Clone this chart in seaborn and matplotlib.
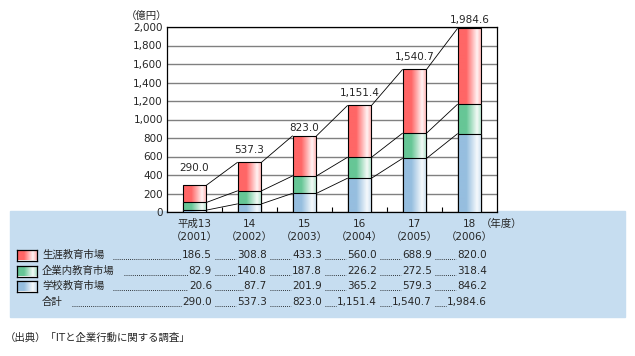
import numpy as np
import pandas as pd
import seaborn as sns
import matplotlib
matplotlib.use("Agg")
import matplotlib.pyplot as plt
import matplotlib.transforms as mtransforms
from matplotlib.lines import Line2D
from matplotlib.colors import to_rgb

# データ（億円）
years = ["平成13", "14", "15", "16", "17", "18"]
years_ad = ["（2001）", "（2002）", "（2003）", "（2004）", "（2005）", "（2006）"]
lifelong = [186.5, 308.8, 433.3, 560.0, 688.9, 820.0]    # 生涯教育市場
corporate = [82.9, 140.8, 187.8, 226.2, 272.5, 318.4]    # 企業内教育市場
school = [20.6, 87.7, 201.9, 365.2, 579.3, 846.2]        # 学校教育市場
series_names = ["生涯教育市場", "企業内教育市場", "学校教育市場"]
series_colors = ["#FF6666", "#66C696", "#96BEDF"]

total = [a + b + c for a, b, c in zip(lifelong, corporate, school)]
middle = [b + c for b, c in zip(corporate, school)]

sns.set_style("white")
plt.rcParams["font.family"] = ["DejaVu Sans", "Noto Sans CJK JP"]
plt.rcParams["font.size"] = 7.5

W, H = 635, 356
fig = plt.figure(figsize=(W / 100, H / 100), dpi=100)


def fx(px):
    return px / W


def fy(py):
    return 1 - py / H


def gradient(color, n=120):
    """横方向のグラデーション（左:色 → 右寄り:白 → 右端:淡色）"""
    base = np.array(to_rgb(color))
    white = np.ones(3)
    stops = [0.0, 0.35, 0.8, 1.0]
    cols = [base, base, base + (white - base) * 0.92, base + (white - base) * 0.45]
    t = np.linspace(0, 1, n)
    rgb = np.stack([np.interp(t, stops, [c[j] for c in cols]) for j in range(3)], axis=-1)
    return rgb[np.newaxis, :, :]


# 表の背景帯
band = plt.Rectangle((fx(10), fy(317)), fx(625) - fx(10), fy(211) - fy(317),
                     transform=fig.transFigure, color="#C6DDF0", zorder=-5)
fig.patches.append(band)

ax = fig.add_axes([fx(167), fy(212), fx(497) - fx(167), fy(27) - fy(212)])

bar_w = 0.436
layers = [total, middle, school]
for k, (vals, color) in enumerate(zip(layers, series_colors)):
    n_before = len(ax.patches)
    sns.barplot(x=years, y=vals, color=color, width=bar_w, saturation=1,
                edgecolor="black", linewidth=0.8, errorbar=None, ax=ax)
    for p in ax.patches[n_before:]:
        x0, y0 = p.get_x(), p.get_y()
        im = ax.imshow(gradient(color), extent=[x0, x0 + p.get_width(), y0, y0 + p.get_height()],
                       aspect="auto", interpolation="bilinear", zorder=2 + 2 * k)
        im.set_clip_path(p)
        p.set_facecolor("none")
        p.set_zorder(2.5 + 2 * k)

# 棒の間を結ぶ線
for vals in layers:
    for i in range(len(vals) - 1):
        ax.plot([i + bar_w / 2, i + 1 - bar_w / 2], [vals[i], vals[i + 1]],
                color="black", lw=0.6, zorder=20)

# 合計ラベル
label_dy = [17, 12, 8, 12, 12, 8]
for i, t in enumerate(total):
    ax.annotate(f"{t:,.1f}", (i, t), xytext=(0, label_dy[i]), textcoords="offset pixels",
                ha="center", va="center", fontsize=7.5)

ax.set_xlim(-0.5, len(years) - 0.5)
ax.set_ylim(0, 2000)
ax.set_yticks(range(0, 2001, 200))
ax.set_yticklabels([f"{v:,}" for v in range(0, 2001, 200)])
ax.set_xticks(range(len(years)))
ax.set_xticklabels(years)
ax.set_xticks([i + 0.5 for i in range(len(years) - 1)], minor=True)
ax.tick_params(axis="x", which="major", length=0, pad=5)
ax.tick_params(axis="x", which="minor", direction="in", length=3.5, width=0.8,
               color="black", bottom=True)
ax.tick_params(axis="y", length=0, pad=3)
ax.set_xlabel("")
ax.set_ylabel("")
ax.yaxis.grid(True, color="#808080", linewidth=1.0)
ax.xaxis.grid(False)
ax.set_axisbelow(True)
for s in ax.spines.values():
    s.set_visible(True)
    s.set_color("black")
    s.set_linewidth(0.9)

fig.text(fx(167), fy(16), "（億円）", ha="right", va="center")

trans = mtransforms.blended_transform_factory(ax.transData, fig.transFigure)
for i, a in enumerate(years_ad):
    ax.text(i, fy(237), a, transform=trans, ha="center", va="center")
ax.text(5.2, fy(224), "（年度）", transform=trans, ha="left", va="center")

# 表部分
row_y = [255, 271, 286, 302]
row_names = series_names + ["合計"]
row_vals = [lifelong, corporate, school, total]
row_texts = []
for name, vals, y in zip(row_names, row_vals, row_y):
    items = [fig.text(fx(42), fy(y), name, ha="left", va="center")]
    for i, v in enumerate(vals):
        items.append(ax.text(i + 0.318, fy(y), f"{v:,.1f}", transform=trans,
                             ha="right", va="center"))
    row_texts.append((items, y))

# 凡例の色見本
for color, y in zip(series_colors, row_y):
    lax = fig.add_axes([fx(17), fy(y + 5.5), fx(37) - fx(17), 11 / H])
    lax.imshow(gradient(color), aspect="auto", interpolation="bilinear")
    lax.set_xticks([])
    lax.set_yticks([])
    for s in lax.spines.values():
        s.set_visible(True)
        s.set_color("black")
        s.set_linewidth(0.9)

# 点線リーダー
fig.canvas.draw()
renderer = fig.canvas.get_renderer()
for items, y in row_texts:
    boxes = [t.get_window_extent(renderer) for t in items]
    for a, b in zip(boxes[:-1], boxes[1:]):
        x0 = a.x1 + (9 if a is boxes[0] else 3)
        x1 = b.x0 - 1
        if x1 > x0:
            fig.add_artist(Line2D([x0 / W, x1 / W], [fy(y + 3.5)] * 2, transform=fig.transFigure,
                                  color="black", lw=0.6, linestyle=(0, (1, 1.5))))

fig.text(fx(5), fy(338), "（出典）「ITと企業行動に関する調査」", ha="left", va="center")

fig.savefig("out.png", dpi=100)
